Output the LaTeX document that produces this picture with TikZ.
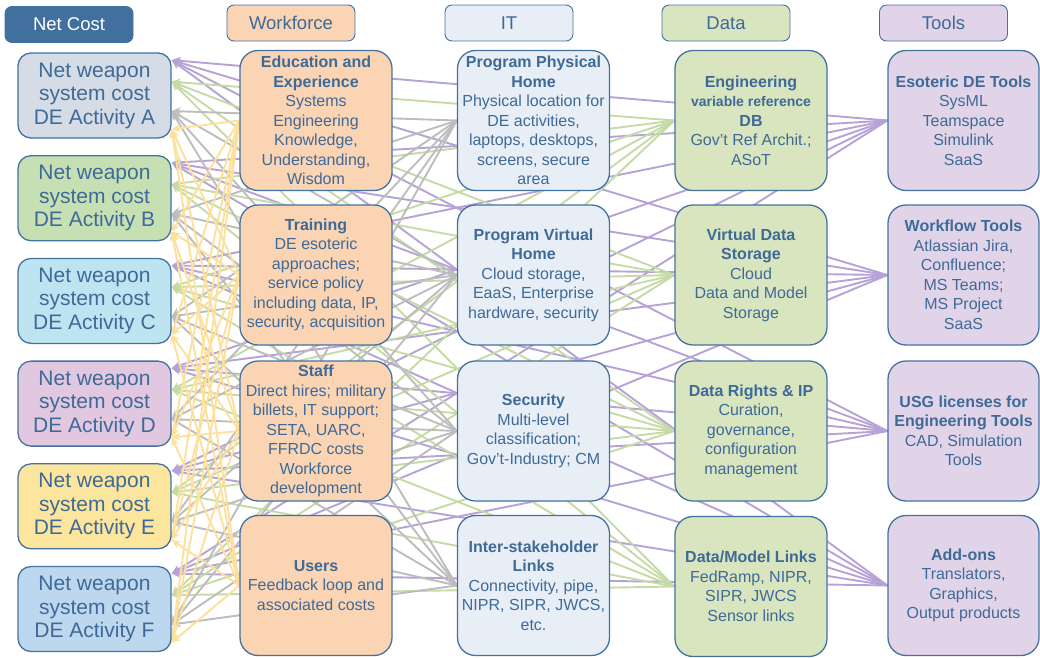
\documentclass[tikz,border=0pt]{standalone}
\usepackage{fontspec}
\setmainfont{Liberation Sans}
\usetikzlibrary{arrows.meta,calc,backgrounds}

\definecolor{txtblue}{HTML}{3E6A98}
\definecolor{edgeblue}{HTML}{4472A0}
\definecolor{costhead}{HTML}{41709F}
\definecolor{wffill}{HTML}{FBD4B4}
\definecolor{itfill}{HTML}{E8EEF6}
\definecolor{datafill}{HTML}{D9E5BE}
\definecolor{toolfill}{HTML}{E2D4E8}
\definecolor{costA}{HTML}{D6DCE5}
\definecolor{costB}{HTML}{C6E0B4}
\definecolor{costC}{HTML}{BEE4F2}
\definecolor{costD}{HTML}{E2C7E0}
\definecolor{costE}{HTML}{FCE59C}
\definecolor{costF}{HTML}{BDD7EE}
\definecolor{toolline}{HTML}{B6A2D6}
\definecolor{dataline}{HTML}{C4DBA6}
\definecolor{itline}{HTML}{BDBDBD}
\definecolor{wfline}{HTML}{FDE09C}

\tikzset{
  hdr/.style={draw=edgeblue,line width=0.9pt,rounded corners=7pt,minimum width=128pt,minimum height=36pt,text=txtblue,font=\fontsize{18.5}{22}\selectfont},
  cost/.style={draw=edgeblue,line width=1.3pt,rounded corners=13pt,minimum width=153pt,minimum height=85pt,text=txtblue,align=center,font=\fontsize{21}{23.5}\selectfont},
  topic/.style={draw=edgeblue,line width=1.3pt,rounded corners=18pt,minimum width=152pt,minimum height=140pt,text=txtblue,align=center,inner sep=2pt,font=\fontsize{16}{19.5}\selectfont},
  link/.style={line width=1.9pt,-{Stealth[length=9pt,width=8pt]}}
}

\begin{document}
\begin{tikzpicture}[x=1pt,y=-1pt]
  \useasboundingbox (0,0) rectangle (1040,657);
  % column headers
  \node[hdr,fill=costhead,text=white] (hNet) at (69,24.5) {Net Cost};
  \node[hdr,fill=wffill] (hWf) at (291,23) {Workforce};
  \node[hdr,fill=itfill] (hIt) at (509,23) {IT};
  \node[hdr,fill=datafill] (hData) at (726,23) {Data};
  \node[hdr,fill=toolfill] (hTool) at (943.5,23) {Tools};

  % net cost boxes
  \foreach \c [count=\i] in {A,B,C,D,E,F}
    \node[cost,fill=cost\c] (cost\i) at (94.5,{95.5+102.7*(\i-1)}) {Net weapon\\system cost\\DE Activity \c};

  % workforce
  \node[topic,fill=wffill] (wf1) at (316,120.5) {\textbf{Education and}\\\textbf{Experience}\\Systems\\Engineering\\Knowledge,\\Understanding,\\Wisdom};
  \node[topic,fill=wffill] (wf2) at (316,275) {\textbf{Training}\\DE esoteric\\approaches;\\service policy\\including data, IP,\\security, acquisition};
  \node[topic,fill=wffill] (wf3) at (316,431) {\textbf{Staff}\\Direct hires; military\\billets, IT support;\\SETA, UARC,\\FFRDC costs\\Workforce\\development};
  \node[topic,fill=wffill] (wf4) at (316,585.5) {\textbf{Users}\\Feedback loop and\\associated costs};

  % IT
  \node[topic,fill=itfill] (it1) at (533.5,120.5) {\textbf{Program Physical}\\\textbf{Home}\\Physical location for\\DE activities,\\laptops, desktops,\\screens, secure\\area};
  \node[topic,fill=itfill] (it2) at (533.5,275) {\textbf{Program Virtual}\\\textbf{Home}\\Cloud storage,\\EaaS, Enterprise\\hardware, security};
  \node[topic,fill=itfill] (it3) at (533.5,431) {\textbf{Security}\\Multi-level\\classification;\\Gov’t-Industry; CM};
  \node[topic,fill=itfill] (it4) at (533.5,585.5) {\textbf{Inter-stakeholder}\\\textbf{Links}\\Connectivity, pipe,\\NIPR, SIPR, JWCS,\\etc.};

  % data
  \node[topic,fill=datafill] (data1) at (751,120.5) {\textbf{Engineering}\\{\fontsize{14}{19.5}\selectfont\bfseries variable reference}\\\textbf{DB}\\Gov’t Ref Archit.;\\ASoT};
  \node[topic,fill=datafill] (data2) at (751,275) {\textbf{Virtual Data}\\\textbf{Storage}\\Cloud\\Data and Model\\Storage};
  \node[topic,fill=datafill] (data3) at (751,431) {\textbf{Data Rights \& IP}\\Curation,\\governance,\\configuration\\management};
  \node[topic,fill=datafill] (data4) at (751,586.5) {\textbf{Data/Model Links}\\FedRamp, NIPR,\\SIPR, JWCS\\Sensor links};

  % tools
  \node[topic,fill=toolfill,minimum width=151pt] (tool1) at (963.5,120.5) {\textbf{Esoteric DE Tools}\\SysML\\Teamspace\\Simulink\\SaaS};
  \node[topic,fill=toolfill,minimum width=151pt] (tool2) at (963.5,275) {\textbf{Workflow Tools}\\Atlassian Jira,\\Confluence;\\MS Teams;\\MS Project\\SaaS};
  \node[topic,fill=toolfill,minimum width=151pt] (tool3) at (963.5,431) {\textbf{USG licenses for}\\\textbf{Engineering Tools}\\CAD, Simulation\\Tools};
  \node[topic,fill=toolfill,minimum width=151pt] (tool4) at (963.5,585.5) {\textbf{Add-ons}\\Translators,\\Graphics,\\Output products};

  % arrow ends on the cost boxes
  \foreach \i in {1,...,6}{
    \coordinate (pT\i) at ($(cost\i.north east)!0.09!(cost\i.south east)$);
    \coordinate (pD\i) at ($(cost\i.north east)!0.34!(cost\i.south east)$);
    \coordinate (pI\i) at ($(cost\i.north east)!0.68!(cost\i.south east)$);
    \coordinate (pW\i) at ($(cost\i.north east)!0.89!(cost\i.south east)$);
  }

  \begin{scope}[on background layer]
    \foreach \s in {1,...,4}\foreach \t in {1,...,6}{
      \draw[link,toolline] (tool\s.west) -- (pT\t);
    }
    \foreach \s in {1,...,4}\foreach \t in {1,...,6}{
      \draw[link,dataline] (data\s.west) -- (pD\t);
    }
    \foreach \s in {1,...,4}\foreach \t in {1,...,6}{
      \draw[link,itline] (it\s.west) -- (pI\t);
    }
    \foreach \s in {1,...,4}\foreach \t in {1,...,6}{
      \draw[link,wfline] (wf\s.west) -- (pW\t);
    }
  \end{scope}
\end{tikzpicture}
\end{document}
